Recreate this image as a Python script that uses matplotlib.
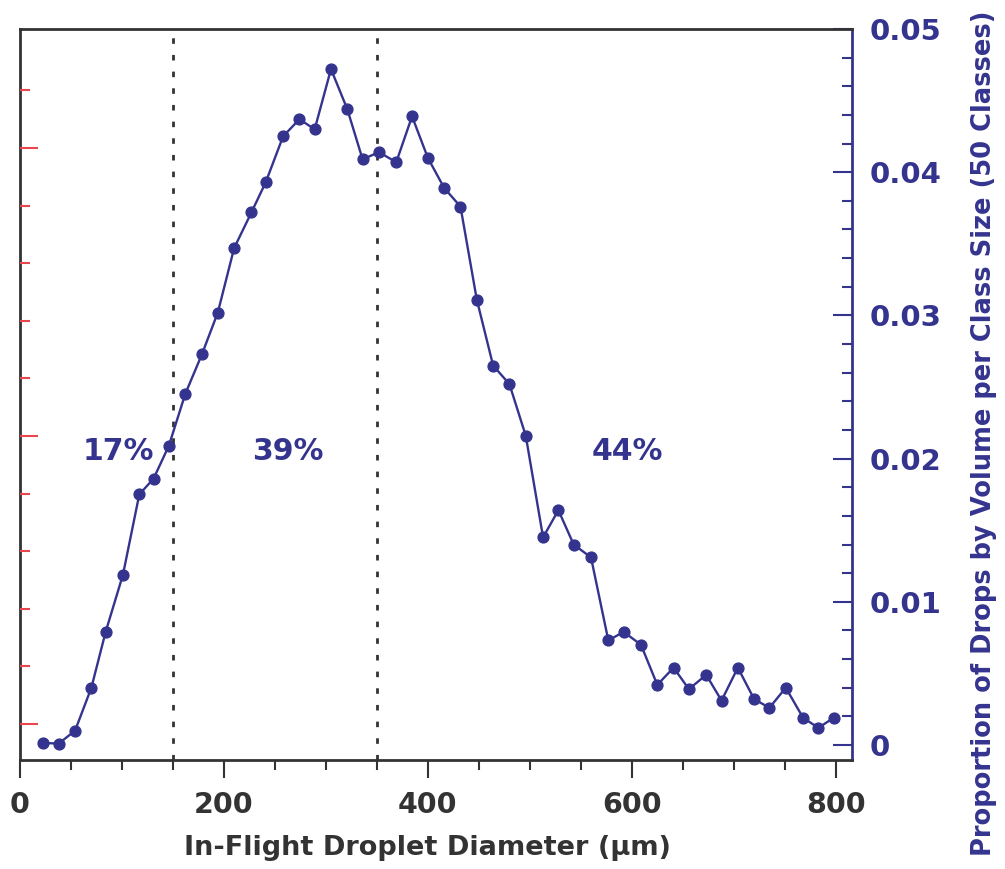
import matplotlib
matplotlib.use("Agg")
import matplotlib.pyplot as plt
from matplotlib.ticker import MultipleLocator, FixedLocator

# ---- data ----
diameter_um = [22.6, 38, 54, 70, 84, 101, 117, 131, 146, 162,
               178.5, 194, 210, 227, 241, 258, 274, 289, 305, 321,
               336, 352, 369, 384.5, 400, 416, 432, 448, 464, 480,
               496, 513, 528, 543, 560, 577, 592, 609, 625, 641,
               656, 673, 688, 704, 720, 735, 751, 768, 783, 798]
proportion = [0.00014, 0.0001, 0.0010, 0.0040, 0.0079, 0.0119, 0.0175, 0.0186, 0.0209, 0.0245,
              0.0273, 0.0302, 0.0347, 0.0372, 0.0393, 0.0425, 0.0437, 0.0430, 0.0472, 0.0444,
              0.0409, 0.0414, 0.0407, 0.0439, 0.0410, 0.0389, 0.0376, 0.0311, 0.0265, 0.0252,
              0.0216, 0.0145, 0.0164, 0.0140, 0.0131, 0.0073, 0.0079, 0.0070, 0.0042, 0.0054,
              0.0039, 0.0049, 0.0031, 0.0054, 0.0032, 0.0026, 0.0040, 0.0019, 0.0012, 0.0019]
split_lines = [150, 350]
region_labels = ["17%", "39%", "44%"]
region_label_x = [96, 263, 596]
region_label_y = 0.0205
x_ticks = [0, 200, 400, 600, 800]
y_ticks = [0, 0.01, 0.02, 0.03, 0.04, 0.05]
y_tick_labels = ["0", "0.01", "0.02", "0.03", "0.04", "0.05"]

BLUE = "#34348f"
DARK = "#333333"
RED = "#e8454f"

plt.rcParams['font.family'] = ['DejaVu Sans']
fig = plt.figure(figsize=(10.05, 8.69), dpi=100)
ax = fig.add_axes([0.0199, 0.1254, 0.8279, 0.8412])

# left axis (cropped companion scale) with red ticks only
axl = ax.twinx()
axl.set_ylim(-0.125, 2.413)
axl.yaxis.set_ticks_position('left')
axl.yaxis.set_major_locator(FixedLocator([0, 1, 2]))
axl.yaxis.set_minor_locator(FixedLocator([0.2, 0.4, 0.6, 0.8, 1.2, 1.4, 1.6, 1.8, 2.2]))
axl.tick_params(axis='y', which='major', direction='in', length=13, width=1.5,
                color=RED, labelleft=False, labelright=False)
axl.tick_params(axis='y', which='minor', direction='in', length=7, width=1.5,
                color=RED, labelleft=False, labelright=False)
for s in axl.spines.values():
    s.set_visible(False)

ax.plot(diameter_um, proportion, color=BLUE, lw=1.7, marker='o', ms=7.8,
        markerfacecolor=BLUE, markeredgecolor=BLUE, zorder=3)
for xv in split_lines:
    ax.axvline(xv, color=DARK, lw=2, linestyle=(0, (2, 4)), zorder=2)

for lab, xv in zip(region_labels, region_label_x):
    ax.text(xv, region_label_y, lab, color=BLUE, fontsize=21.5, fontweight='bold',
            ha='center', va='center')

ax.set_xlim(0, 816)
ax.set_ylim(-0.00105, 0.0500)

ax.set_xticks(x_ticks)
ax.xaxis.set_minor_locator(MultipleLocator(50))
ax.tick_params(axis='x', which='major', direction='out', length=13, width=1.5,
               color=DARK, labelsize=20.5, labelcolor=DARK, pad=9)
ax.tick_params(axis='x', which='minor', direction='out', length=7, width=1.5, color=DARK)
for lbl in ax.get_xticklabels():
    lbl.set_fontweight('bold')

ax.yaxis.tick_right()
ax.set_yticks(y_ticks)
ax.set_yticklabels(y_tick_labels)
ax.yaxis.set_minor_locator(MultipleLocator(0.002))
ax.tick_params(axis='y', which='major', direction='in', length=14, width=1.5,
               color=BLUE, labelsize=21, labelcolor=BLUE, pad=13,
               left=False, labelleft=False, right=True, labelright=True)
ax.tick_params(axis='y', which='minor', direction='in', length=7, width=1.5, color=BLUE,
               left=False, right=True)
for lbl in ax.get_yticklabels():
    lbl.set_fontweight('bold')

fig.text(0.425, 0.024, "In-Flight Droplet Diameter (µm)", fontsize=19.5, fontweight='bold',
         color=DARK, ha='center', va='center')
fig.text(0.979, 0.502, "Proportion of Drops by Volume per Class Size (50 Classes)",
         fontsize=18.5, fontweight='bold', color=BLUE, rotation=90,
         ha='center', va='center')

for side in ['top', 'bottom', 'left']:
    ax.spines[side].set_color(DARK)
    ax.spines[side].set_linewidth(2)
ax.spines['right'].set_color(BLUE)
ax.spines['right'].set_linewidth(2)

fig.savefig("out.png", dpi=100)
